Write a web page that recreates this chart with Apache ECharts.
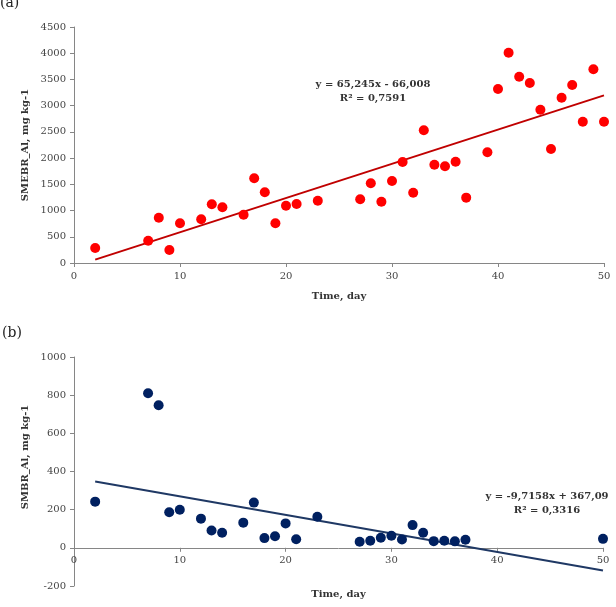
<!DOCTYPE html>
<html>
<head>
<meta charset="utf-8">
<script src="https://cdn.jsdelivr.net/npm/echarts@6/dist/echarts.min.js"></script>
<style>
  html, body { margin: 0; padding: 0; background: #fff; }
  #chart { width: 616px; height: 607px; }
</style>
</head>
<body>
<div id="chart"></div>
<script>
// panel (a): SMEBR_Al
var daysA = [2, 7, 8, 9, 10, 12, 13, 14, 16, 17, 18, 19, 20, 21, 23, 27, 28, 29, 30, 31, 32, 33, 34, 35, 36, 37, 39, 40, 41, 42, 43, 44, 45, 46, 47, 48, 49, 50];
var valuesA = [285, 425, 864, 248, 757, 833, 1119, 1062, 921, 1615, 1348, 757, 1093, 1125, 1188, 1215, 1520, 1169, 1564, 1926, 1341, 2530, 1875, 1844, 1932, 1246, 2111, 3318, 4010, 3553, 3432, 2923, 2174, 3152, 3394, 2694, 3693, 2694];
var trendA = [65.245, -66.008]; // slope, intercept

// panel (b): SMBR_Al
var daysB = [2, 7, 8, 9, 10, 12, 13, 14, 16, 17, 18, 19, 20, 21, 23, 27, 28, 29, 30, 31, 32, 33, 34, 35, 36, 37, 50];
var valuesB = [242, 810, 747, 186, 200, 153, 91, 79, 132, 237, 51, 61, 128, 45, 163, 32, 37, 53, 63, 44, 119, 79, 35, 37, 34, 42, 47];
var trendB = [-9.7158, 367.09];

var trendRange = [2, 50];

function pairs(xs, ys) {
  return xs.map(function (x, i) { return [x, ys[i]]; });
}
function trendLine(c) {
  return trendRange.map(function (x) { return [x, c[0] * x + c[1]]; });
}

var font = "DejaVu Serif";
var axisGray = "#868686";
var plainNum = function (v) { return String(v); };

function xAxis(gridIndex, offset, nameGap) {
  return {
    gridIndex: gridIndex,
    type: "value",
    min: 0, max: 50, interval: 10,
    offset: offset,
    name: "Time, day",
    nameLocation: "middle",
    nameGap: nameGap,
    nameTextStyle: { fontFamily: font, fontWeight: "bold", fontSize: 10, color: "#333" },
    axisLine: { onZero: false, lineStyle: { color: axisGray } },
    axisTick: { show: true, length: 4, lineStyle: { color: axisGray } },
    axisLabel: { fontFamily: font, fontSize: 10, color: "#444", margin: 8, formatter: plainNum },
    splitLine: { show: false }
  };
}
function yAxis(gridIndex, min, max, interval) {
  return {
    gridIndex: gridIndex,
    type: "value",
    min: min, max: max, interval: interval,
    axisLine: { show: true, lineStyle: { color: axisGray } },
    axisTick: { show: true, length: 4, lineStyle: { color: axisGray } },
    axisLabel: { fontFamily: font, fontSize: 10, color: "#444", margin: 8, formatter: plainNum },
    splitLine: { show: false }
  };
}

var chart = echarts.init(document.getElementById("chart"));
chart.setOption({
  animation: false,
  grid: [
    { left: 74, top: 27, width: 530, height: 236, containLabel: false, outerBoundsMode: "none" },
    { left: 74, top: 357, width: 529, height: 229, containLabel: false, outerBoundsMode: "none" }
  ],
  xAxis: [xAxis(0, 0, 28), xAxis(1, -38.2, 42)],
  yAxis: [yAxis(0, 0, 4500, 500), yAxis(1, -200, 1000, 200)],
  series: [
    {
      type: "line", xAxisIndex: 0, yAxisIndex: 0,
      data: trendLine(trendA), symbol: "none",
      lineStyle: { color: "#c00000", width: 2 }, z: 2
    },
    {
      type: "scatter", xAxisIndex: 0, yAxisIndex: 0,
      data: pairs(daysA, valuesA), symbolSize: 10,
      itemStyle: { color: "#ff0000", opacity: 1 }, z: 3
    },
    {
      type: "line", xAxisIndex: 1, yAxisIndex: 1,
      data: trendLine(trendB), symbol: "none",
      lineStyle: { color: "#1f3864", width: 2 }, z: 2
    },
    {
      type: "scatter", xAxisIndex: 1, yAxisIndex: 1,
      data: pairs(daysB, valuesB), symbolSize: 10,
      itemStyle: { color: "#002060", opacity: 1 }, z: 3
    }
  ],
  graphic: [
    { type: "text", left: 0, top: -4, style: { text: "(a)", font: "14px " + font, fill: "#222" } },
    { type: "text", left: 2, top: 326, style: { text: "(b)", font: "14px " + font, fill: "#222" } },
    {
      type: "text", x: 25, y: 145, rotation: Math.PI / 2,
      style: { text: "SMEBR_Al, mg kg-1", font: "bold 10px " + font, fill: "#333", align: "center", verticalAlign: "middle" }
    },
    {
      type: "text", x: 25, y: 457, rotation: Math.PI / 2,
      style: { text: "SMBR_Al, mg kg-1", font: "bold 10px " + font, fill: "#333", align: "center", verticalAlign: "middle" }
    },
    {
      type: "text", x: 373, y: 84,
      style: { text: "y = 65,245x - 66,008", font: "bold 10px " + font, fill: "#333", align: "center", verticalAlign: "middle" }
    },
    {
      type: "text", x: 373, y: 98,
      style: { text: "R² = 0,7591", font: "bold 10px " + font, fill: "#333", align: "center", verticalAlign: "middle" }
    },
    {
      type: "text", x: 547, y: 496,
      style: { text: "y = -9,7158x + 367,09", font: "bold 10px " + font, fill: "#333", align: "center", verticalAlign: "middle" }
    },
    {
      type: "text", x: 547, y: 510,
      style: { text: "R² = 0,3316", font: "bold 10px " + font, fill: "#333", align: "center", verticalAlign: "middle" }
    }
  ]
});
</script>
</body>
</html>
